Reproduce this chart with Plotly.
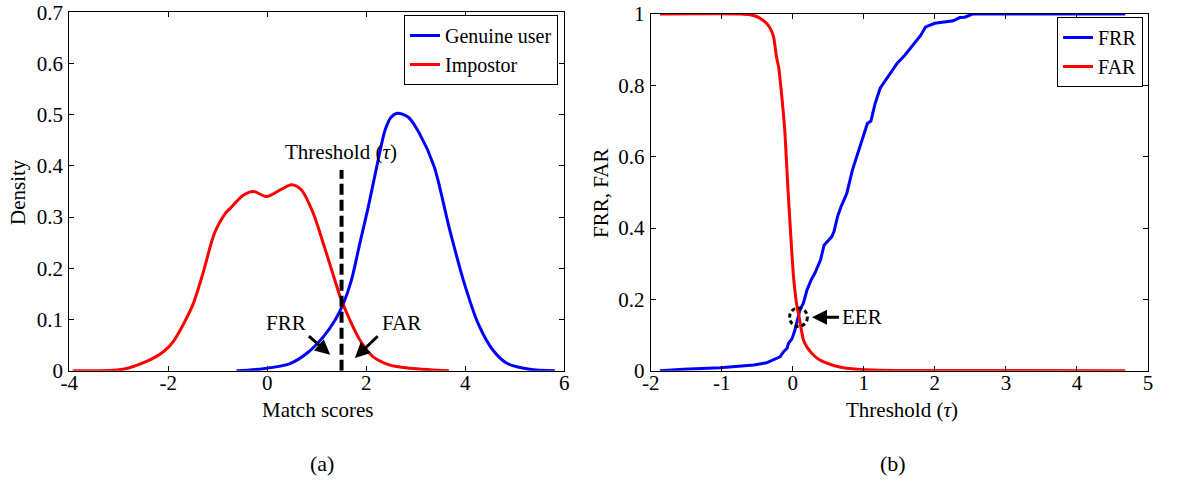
import plotly.graph_objects as go

# ---------------- data: panel (a) ----------------
genuine_x = [-0.62, -0.08, 0.46, 0.80, 1.13, 1.37, 1.54, 1.70, 1.87, 2.04, 2.21, 2.38, 2.50, 2.63,
             2.85, 3.07, 3.37, 3.67, 3.96, 4.26, 4.56, 4.85, 5.30, 5.81]
genuine_y = [0.0, 0.004, 0.014, 0.034, 0.066, 0.099, 0.132, 0.177, 0.249, 0.320, 0.398, 0.470, 0.495, 0.503,
             0.495, 0.464, 0.399, 0.281, 0.177, 0.092, 0.040, 0.014, 0.003, 0.0]
impostor_x = [-3.93, -2.91, -2.44, -2.10, -1.90, -1.52, -1.30, -1.07, -0.85, -0.75, -0.48, -0.28, -0.01,
              0.26, 0.49, 0.69, 0.93, 1.13, 1.30, 1.47, 1.64, 1.87, 2.14, 2.48, 2.88, 3.29, 3.67]
impostor_y = [0.0, 0.003, 0.018, 0.037, 0.057, 0.125, 0.190, 0.268, 0.307, 0.317, 0.343, 0.350, 0.340,
              0.353, 0.363, 0.353, 0.307, 0.249, 0.197, 0.145, 0.105, 0.060, 0.027, 0.011, 0.005, 0.002, 0.0]
threshold = 1.5
threshold_top = 0.392

# ---------------- data: panel (b) ----------------
frr_x = [-1.87, -1.54, -1.02, -0.74, -0.55, -0.37, -0.28, -0.23, -0.18, -0.13, -0.08, -0.06, -0.01,
         0.03, 0.06, 0.10, 0.15, 0.20, 0.26, 0.31, 0.39, 0.44, 0.50, 0.55, 0.58, 0.63, 0.68, 0.76,
         0.84, 0.94, 1.05, 1.10, 1.16, 1.23, 1.37, 1.47, 1.58, 1.66, 1.74, 1.80, 1.87, 2.00, 2.26,
         2.35, 2.42, 2.53, 4.68]
frr_y = [0.0, 0.004, 0.008, 0.012, 0.016, 0.022, 0.030, 0.035, 0.039, 0.053, 0.063, 0.077, 0.090,
         0.114, 0.140, 0.170, 0.190, 0.226, 0.255, 0.273, 0.310, 0.352, 0.365, 0.376, 0.390, 0.432, 0.460, 0.497,
         0.563, 0.628, 0.693, 0.700, 0.750, 0.792, 0.834, 0.862, 0.885, 0.905, 0.927, 0.940, 0.964, 0.974, 0.981,
         0.990, 0.991, 1.0, 1.0]
far_x = [-1.87, -0.74, -0.60, -0.51, -0.44, -0.37, -0.31, -0.27, -0.23, -0.20, -0.15, -0.11, -0.07,
         -0.03, 0.01, 0.06, 0.09, 0.15, 0.20, 0.29, 0.38, 0.48, 0.60, 0.76, 1.14, 1.60, 4.68]
far_y = [1.0, 1.0, 0.998, 0.993, 0.985, 0.974, 0.957, 0.936, 0.880, 0.852, 0.759, 0.665, 0.516,
         0.385, 0.264, 0.179, 0.150, 0.086, 0.066, 0.044, 0.030, 0.021, 0.013, 0.007, 0.002, 0.0005, 0.0]
eer_x = 0.08
eer_y = 0.15

# tick labels
a_xticks = [-4, -2, 0, 2, 4, 6]
a_xtext = ["-4", "-2", "0", "2", "4", "6"]
a_yticks = [0, 0.1, 0.2, 0.3, 0.4, 0.5, 0.6, 0.7]
a_ytext = ["0", "0.1", "0.2", "0.3", "0.4", "0.5", "0.6", "0.7"]
b_xticks = [-2, -1, 0, 1, 2, 3, 4, 5]
b_xtext = ["-2", "-1", "0", "1", "2", "3", "4", "5"]
b_yticks = [0, 0.2, 0.4, 0.6, 0.8, 1]
b_ytext = ["0", "0.2", "0.4", "0.6", "0.8", "1"]

FONT = "Liberation Serif"
W, H = 1177, 482
BLUE = "#0000ff"
RED = "#ff0000"

fig = go.Figure()
fig.add_trace(go.Scatter(x=genuine_x, y=genuine_y, mode="lines", name="Genuine user",
                         line=dict(color=BLUE, width=3, shape="spline", smoothing=0.8),
                         xaxis="x", yaxis="y", legend="legend"))
fig.add_trace(go.Scatter(x=impostor_x, y=impostor_y, mode="lines", name="Impostor",
                         line=dict(color=RED, width=3, shape="spline", smoothing=0.8),
                         xaxis="x", yaxis="y", legend="legend"))
fig.add_trace(go.Scatter(x=[threshold, threshold], y=[0, threshold_top], mode="lines",
                         line=dict(color="black", width=4, dash="11px,5px"),
                         showlegend=False, xaxis="x", yaxis="y"))
fig.add_trace(go.Scatter(x=frr_x, y=frr_y, mode="lines", name="FRR",
                         line=dict(color=BLUE, width=3),
                         xaxis="x2", yaxis="y2", legend="legend2"))
fig.add_trace(go.Scatter(x=far_x, y=far_y, mode="lines", name="FAR",
                         line=dict(color=RED, width=3, shape="spline", smoothing=0.6),
                         xaxis="x2", yaxis="y2", legend="legend2"))

axis_common = dict(showgrid=False, zeroline=False, showline=True, linecolor="black", linewidth=1,
                   mirror="ticks", ticks="inside", ticklen=5, tickcolor="black", tickwidth=1,
                   automargin=False,
                   tickfont=dict(family=FONT, size=21, color="black"))
xa = dict(ticklabelstandoff=-7, **axis_common)
ya = dict(ticklabelstandoff=1, **axis_common)

fig.update_layout(
    template="none",
    width=W, height=H,
    margin=dict(l=0, r=0, t=0, b=0, pad=0, autoexpand=False),
    paper_bgcolor="white", plot_bgcolor="white",
    font=dict(family=FONT, size=21, color="black"),
    xaxis=dict(domain=[69.3 / W, 564.3 / W], range=[-4, 6], tickvals=a_xticks, ticktext=a_xtext,
               anchor="y", **xa),
    yaxis=dict(domain=[1 - 370.7 / H, 1 - 12.3 / H], range=[0, 0.7], tickvals=a_yticks, ticktext=a_ytext,
               anchor="x", **ya),
    xaxis2=dict(domain=[650.7 / W, 1148 / W], range=[-2, 5], tickvals=b_xticks, ticktext=b_xtext,
                anchor="y2", **xa),
    yaxis2=dict(domain=[1 - 370.7 / H, 1 - 14 / H], range=[0, 1], tickvals=b_yticks, ticktext=b_ytext,
                anchor="x2", **ya),
    legend=dict(x=558 / W, y=1 - 15 / H, xanchor="right", yanchor="top", bgcolor="white",
                bordercolor="black", borderwidth=1, font=dict(family=FONT, size=20, color="black"),
                tracegroupgap=0, itemwidth=30),
    legend2=dict(x=1143 / W, y=1 - 17 / H, xanchor="right", yanchor="top", bgcolor="white",
                 bordercolor="black", borderwidth=1, font=dict(family=FONT, size=20, color="black"),
                 tracegroupgap=0, itemwidth=30),
    showlegend=True,
)

tf = dict(family=FONT, size=21, color="black")
C = dict(xanchor="center", yanchor="middle", showarrow=False)
ann = [
    # axis titles and panel labels
    dict(text="Match scores", x=317 / W, y=1 - 410 / H, xref="paper", yref="paper", font=tf, **C),
    dict(text="Threshold (<i>τ</i>)", x=902 / W, y=1 - 410 / H, xref="paper", yref="paper", font=tf, **C),
    dict(text="Density", x=18 / W, y=1 - 192 / H, xref="paper", yref="paper", font=tf, textangle=-90, **C),
    dict(text="FRR, FAR", x=601 / W, y=1 - 193 / H, xref="paper", yref="paper", font=tf, textangle=-90, **C),
    dict(text="(a)", x=322 / W, y=1 - 463 / H, xref="paper", yref="paper", font=dict(family=FONT, size=22, color="black"), **C),
    dict(text="(b)", x=893 / W, y=1 - 463 / H, xref="paper", yref="paper", font=dict(family=FONT, size=22, color="black"), **C),
    # panel (a) labels
    dict(text="Threshold (<i>τ</i>)", x=1.485, y=0.427, xref="x", yref="y", font=tf, **C),
    dict(text="FRR", x=0.375, y=0.094, xref="x", yref="y", font=tf, **C),
    dict(text="FAR", x=2.71, y=0.094, xref="x", yref="y", font=tf, **C),
    dict(text="", x=1.27, y=0.031, ax=0.81, ay=0.07, xref="x", yref="y", axref="x", ayref="y",
         showarrow=True, arrowhead=2, arrowsize=1, arrowwidth=3, arrowcolor="black"),
    dict(text="", x=1.77, y=0.025, ax=2.26, ay=0.07, xref="x", yref="y", axref="x", ayref="y",
         showarrow=True, arrowhead=2, arrowsize=1, arrowwidth=3, arrowcolor="black"),
    # panel (b) EER
    dict(text="EER", x=0.67, y=eer_y, xref="x2", yref="y2", xanchor="left", yanchor="middle",
         showarrow=False, font=tf),
    dict(text="", x=0.27, y=eer_y, ax=0.67, ay=eer_y, xref="x2", yref="y2", axref="x2", ayref="y2",
         showarrow=True, arrowhead=2, arrowsize=1, arrowwidth=3, arrowcolor="black"),
]
fig.update_layout(annotations=ann)

fig.add_shape(type="circle", xref="x2", yref="y2",
              x0=eer_x - 0.125, x1=eer_x + 0.125, y0=eer_y - 0.026, y1=eer_y + 0.026,
              line=dict(color="black", width=3, dash="4px,3px"))

fig.write_html("out.html", config={"displayModeBar": False},
               post_script="document.body.style.margin='0';")
